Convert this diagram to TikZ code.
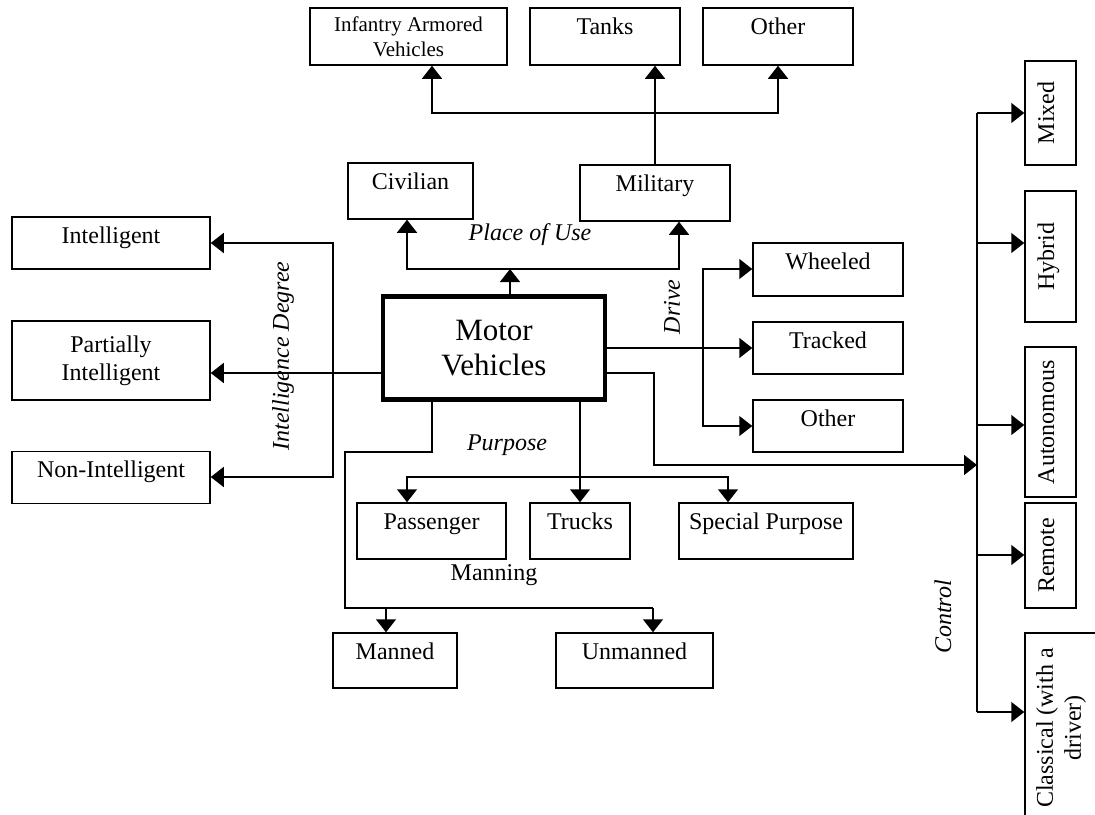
\documentclass[tikz,border=0pt]{standalone}
\usepackage{fontspec}
\setmainfont{Liberation Serif}
\usetikzlibrary{arrows.meta}
\begin{document}
\begin{tikzpicture}[x=1pt,y=-1pt,
  base/.style={draw, line width=1.5pt, inner sep=0pt, font=\fontsize{24}{28}\selectfont},
  one/.style={base, text height=26pt, text depth=#1},
  lab/.style={inner sep=0pt, font=\fontsize{24}{28}\selectfont\itshape},
  plain/.style={inner sep=0pt, font=\fontsize{24}{28}\selectfont},
  ln/.style={line width=1.5pt},
  arr/.style={ln, -{Triangle[length=13pt,width=20pt]}},
  arrboth/.style={ln, {Triangle[length=13pt,width=20pt]}-{Triangle[length=13pt,width=20pt]}}
]
\fill[white] (0,0) rectangle (1095,814);
\useasboundingbox (0,0) rectangle (1095,814);

% central node
\node[draw, line width=4.5pt, minimum width=222pt, minimum height=103pt, align=center,
      font=\fontsize{31}{35}\selectfont] (motor) at (494,348) {Motor\\Vehicles};

% top (military kinds)
\node[base, font=\fontsize{21}{25}\selectfont, align=center, minimum width=197pt, minimum height=57pt] (inf) at (408.5,36.5) {Infantry Armored\\Vehicles};
\node[one=31pt, minimum width=150pt] (tanks) at (605,36.5) {Tanks};
\node[one=31pt, minimum width=150pt] (otherT) at (778,36.5) {Other};

% place of use
\node[one=30pt, minimum width=125pt] (civ) at (410.5,191) {Civilian};
\node[one=30pt, minimum width=150pt] (mil) at (655,193) {Military};

% intelligence
\node[one=26pt, minimum width=198pt] (intel) at (111,243) {Intelligent};
\node[base, align=center, minimum width=198pt, minimum height=79pt] (partial) at (111,360.5) {Partially\\Intelligent};
\node[one=26pt, minimum width=198pt] (nonint) at (111,477.5) {Non-Intelligent};

% drive
\node[one=27pt, minimum width=150pt] (wheeled) at (828,269.5) {Wheeled};
\node[one=26pt, minimum width=150pt] (tracked) at (828,348) {Tracked};
\node[one=26pt, minimum width=150pt] (otherD) at (828,426) {Other};

% purpose
\node[one=30pt, minimum width=149pt] (passenger) at (431.5,531) {Passenger};
\node[one=30pt, minimum width=100pt] (trucks) at (580,531) {Trucks};
\node[one=30pt, minimum width=174pt] (special) at (766,531) {Special Purpose};

% manning
\node[one=29pt, minimum width=124pt] (manned) at (395,660.5) {Manned};
\node[one=29pt, minimum width=157pt] (unmanned) at (634.5,660.5) {Unmanned};

% control
\node[base, rotate=90, text height=29pt, text depth=22pt, minimum width=104pt] (mixed) at (1050.5,113) {Mixed};
\node[base, rotate=90, text height=29pt, text depth=22pt, minimum width=131pt] (hybrid) at (1050.5,256.5) {Hybrid};
\node[base, rotate=90, text height=29pt, text depth=22pt, minimum width=150pt] (auto) at (1050.5,422) {Autonomous};
\node[base, rotate=90, text height=29pt, text depth=22pt, minimum width=105pt] (remote) at (1050.5,555.5) {Remote};
\node[base, rotate=90, align=center, minimum width=190pt, minimum height=72pt] (classical) at (1061,728) {Classical (with a\\driver)};

% labels
\node[lab, rotate=90] (lid) at (283,356) {Intelligence Degree};
\node[lab] (lpu) at (530,235) {Place of Use};
\node[lab, rotate=90] (ldr) at (672,307) {Drive};
\node[lab] (lpp) at (507,445) {Purpose};
\node[plain] (lman) at (494,575) {Manning};
\node[lab, rotate=90] (lctl) at (943,617) {Control};

% junction coordinates
\coordinate (pu) at (510,269);
\coordinate (puL) at (407,269);
\coordinate (puR) at (679,269);
\coordinate (mL) at (432,113);
\coordinate (mR) at (778,113);
\coordinate (iM) at (383,373);
\coordinate (iT) at (333,243);
\coordinate (iB) at (333,477);
\coordinate (dT) at (703,269);
\coordinate (dB) at (703,426);
\coordinate (k1) at (654,373);
\coordinate (k2) at (654,465);
\coordinate (kc) at (977,465);
\coordinate (c1) at (977,113);
\coordinate (c2) at (977,243);
\coordinate (c3) at (977,425);
\coordinate (c4) at (977,555);
\coordinate (c5) at (977,712);
\coordinate (pL) at (407,477);
\coordinate (pR) at (728,477);
\coordinate (m1) at (432,452);
\coordinate (m2) at (345,452);
\coordinate (m3) at (345,608);
\coordinate (m4) at (653,608);
\coordinate (mA) at (386,608);

% place of use
\draw[arr] (motor.north -| pu) -- (pu);
\draw[arrboth] (civ.south -| puL) -- (puL) -- (puR) -- (mil.south -| puR);

% military kinds
\draw[arr] (mil.north) -- (mil.north |- tanks.south);
\draw[arrboth] (inf.south -| mL) -- (mL) -- (mR) -- (otherT.south -| mR);

% intelligence
\draw[arr] (motor.west |- iM) -- (partial.east |- iM);
\draw[arrboth] (intel.east |- iT) -- (iT) -- (iB) -- (nonint.east |- iB);

% drive
\draw[arr] (motor.east) -- (tracked.west |- motor.east);
\draw[arrboth] (wheeled.west |- dT) -- (dT) -- (dB) -- (otherD.west |- dB);

% control
\draw[arr] (motor.east |- k1) -- (k1) -- (k2) -- (kc);
\draw[ln] (c1) -- (c5);
\draw[arr] (c1) -- (c1 -| mixed.north);
\draw[arr] (c2) -- (c2 -| hybrid.north);
\draw[arr] (c3) -- (c3 -| auto.north);
\draw[arr] (c4) -- (c4 -| remote.north);
\draw[arr] (c5) -- (c5 -| classical.north);

% purpose
\draw[arr] (motor.south -| trucks.north) -- (trucks.north);
\draw[arrboth] (passenger.north -| pL) -- (pL) -- (pR) -- (special.north -| pR);

% manning
\draw[ln] (motor.south -| m1) -- (m1) -- (m2) -- (m3) -- (m4);
\draw[arr] (mA) -- (manned.north -| mA);
\draw[arr] (m4) -- (unmanned.north -| m4);
\end{tikzpicture}
\end{document}
